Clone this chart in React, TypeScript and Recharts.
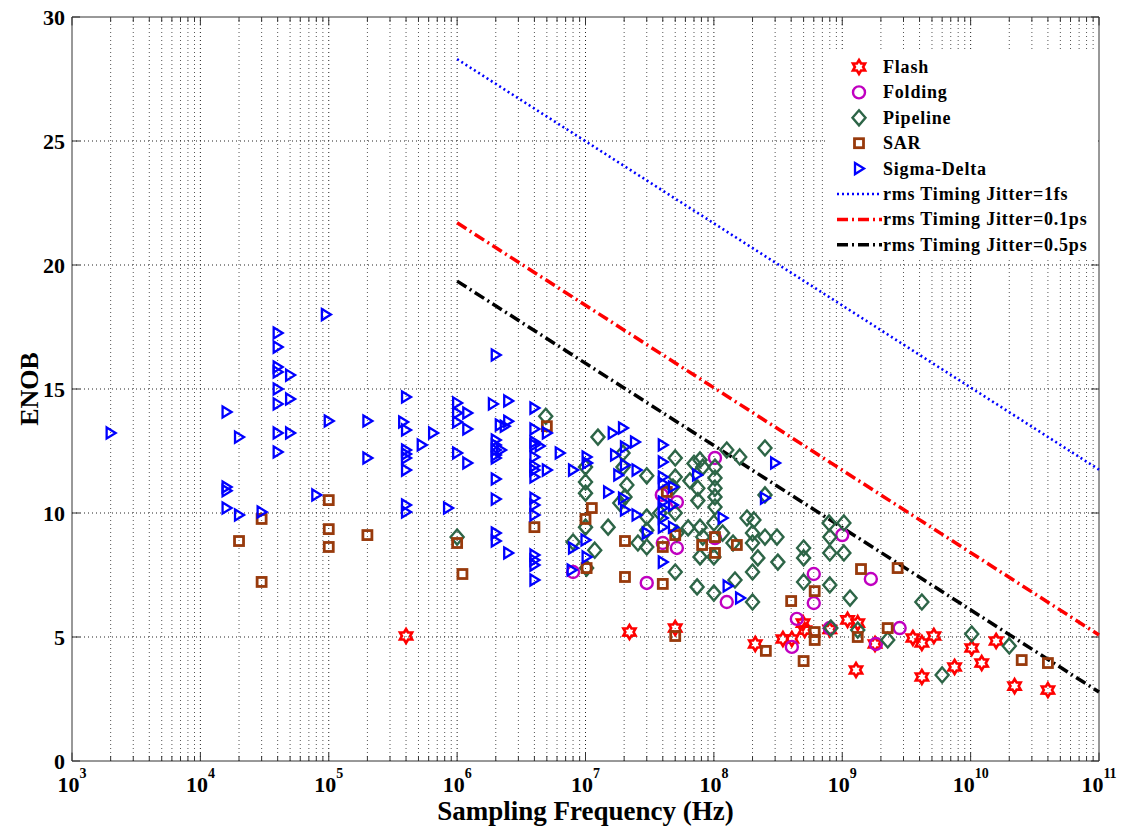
import React from "react";
import { ScatterChart, Scatter, XAxis, YAxis, ReferenceLine, Legend } from "recharts";

const FONT = '"Liberation Serif", "Times New Roman", Times, serif';

// axis ticks
const xTicks = [1e3, 1e4, 1e5, 1e6, 1e7, 1e8, 1e9, 1e10, 1e11];
const yTicks = [0, 5, 10, 15, 20, 25, 30];
const minorSteps = [2, 3, 4, 5, 6, 7, 8, 9];

// [sampling frequency (Hz), ENOB]
const flashData = [
  [4e5, 5.04], [2.2e7, 5.2], [5e7, 5.36], [2.1e8, 4.72], [3.45e8, 4.92], [4.05e8, 4.92],
  [4.95e8, 5.56], [5.1e8, 5.28], [8e8, 5.3], [1.1e9, 5.69], [1.32e9, 5.56], [1.28e9, 3.67],
  [1.8e9, 4.72], [3.55e9, 4.96], [4.17e9, 4.76], [5.17e9, 5.04], [4.17e9, 3.39], [7.5e9, 3.79],
  [1.02e10, 4.56], [1.22e10, 3.95], [1.58e10, 4.84], [2.2e10, 3.02], [4e10, 2.86],
];

const foldingData = [
  [8e6, 7.62], [3e7, 7.18], [1.26e8, 6.41], [3.93e7, 10.73], [5.15e7, 10.44], [4e7, 8.79],
  [5.15e7, 8.59], [1.02e8, 12.22], [1.02e8, 8.99], [6e8, 7.54], [6e8, 6.37], [4.43e8, 5.73],
  [4.05e8, 4.6], [8e8, 5.36], [1e9, 9.11], [1.67e9, 7.34], [1.83e9, 4.72], [2.8e9, 5.36],
];

const pipelineData = [
  [1e6, 9.03], [4.9e6, 13.9], [1.25e7, 13.06], [1.96e7, 12.42], [1.96e7, 11.85], [3e7, 11.5],
  [1e7, 11.85], [1e7, 11.25], [1e7, 10.8], [2.1e7, 11.13], [2.03e7, 10.65], [5e7, 12.22],
  [5e7, 11.45], [4.8e7, 11.05], [7e7, 12.0], [7.8e7, 12.14], [8.2e7, 11.85], [1.02e8, 11.85],
  [1.02e8, 11.41], [1.02e8, 11.0], [1.02e8, 10.65], [1.02e8, 10.24], [1.26e8, 12.54],
  [1.59e8, 12.26], [7.5e7, 11.0], [7.5e7, 10.5], [6.5e7, 11.3], [3e7, 9.84], [3e7, 9.3],
  [3e7, 8.63], [1.5e7, 9.43], [1e7, 9.43], [1.18e7, 8.5], [8e6, 8.83], [2.56e7, 8.79],
  [6.3e7, 9.4], [7.8e7, 9.43], [8.2e7, 9.03], [1e8, 9.6], [1.17e8, 9.19], [1.41e8, 8.79],
  [7.8e7, 8.23], [1e8, 8.23], [5e7, 7.62], [7.4e7, 7.02], [1e8, 6.77], [1.46e8, 7.3],
  [1.02e7, 7.78], [1.85e7, 10.4], [3.8e7, 10.0], [5e7, 10.0], [5.15e7, 9.19], [2e8, 6.41],
  [2e8, 7.62], [2.2e8, 8.19], [2e8, 8.79], [2e8, 9.19], [1.81e8, 9.8], [2.05e8, 9.72],
  [2.5e8, 9.03], [3.1e8, 9.03], [3.15e8, 8.02], [2.5e8, 12.62], [2.5e8, 10.73], [5e8, 8.59],
  [5e8, 8.19], [5e8, 7.22], [8e8, 9.03], [8e8, 8.39], [8e8, 7.1], [7.9e8, 9.6], [1.03e9, 9.6],
  [1.03e9, 8.39], [1.15e9, 6.57], [8.15e8, 5.36], [1.32e9, 5.28], [2.26e9, 4.88],
  [4.17e9, 6.41], [1.02e10, 5.12], [2e10, 4.64], [6e9, 3.47],
];

const sarData = [
  [2e4, 8.87], [3e4, 9.76], [3e4, 7.22], [1e5, 10.52], [1e5, 9.35], [1e5, 8.63], [2e5, 9.11],
  [1e6, 8.79], [1.1e6, 7.54], [4e6, 9.43], [5e6, 13.5], [1.12e7, 10.2], [1e7, 9.76],
  [1.02e7, 7.78], [2.03e7, 8.87], [2.03e7, 7.42], [4e7, 8.63], [4e7, 7.14], [4.3e7, 10.85],
  [5e7, 9.11], [5e7, 5.04], [8.1e7, 8.71], [1.02e8, 9.03], [1.02e8, 8.39], [1.51e8, 8.71],
  [2.54e8, 4.44], [4e8, 6.45], [6.1e8, 6.85], [6.1e8, 5.2], [6.1e8, 4.88], [5e8, 4.03],
  [1.4e9, 7.74], [2.7e9, 7.78], [1.32e9, 5.0], [2.26e9, 5.36], [2.5e10, 4.07], [4e10, 3.95],
];

const sigmaDeltaData = [
  [2e3, 13.23], [1.6e4, 14.07], [1.6e4, 11.05], [1.6e4, 10.9], [1.6e4, 10.2], [2e4, 13.06],
  [2e4, 9.92], [3e4, 10.04], [4e4, 17.26], [4e4, 16.69], [4e4, 15.89], [4e4, 15.69],
  [4e4, 15.0], [4e4, 14.4], [4e4, 13.23], [4e4, 12.46], [5e4, 15.56], [5e4, 14.6],
  [5e4, 13.23], [9.5e4, 18.0], [1e5, 13.71], [8e4, 10.73], [2e5, 13.71], [2e5, 12.22],
  [4e5, 14.68], [3.8e5, 13.67], [4e5, 13.35], [4e5, 12.54], [4e5, 12.38], [4e5, 12.22],
  [4e5, 11.73], [4e5, 10.32], [4e5, 10.04], [5.3e5, 12.74], [6.5e5, 13.23], [8.5e5, 10.2],
  [1e6, 14.44], [1e6, 14.03], [1.2e6, 14.03], [1e6, 13.67], [1.2e6, 13.39], [1e6, 12.42],
  [1.2e6, 12.02], [1.9e6, 14.4], [2.5e6, 14.52], [2e6, 16.37], [2.15e6, 13.55], [2.5e6, 13.7],
  [2.35e6, 13.5], [2e6, 12.94], [2e6, 12.74], [2e6, 12.54], [2e6, 12.34], [2e6, 12.22],
  [2.2e6, 12.54], [2e6, 11.37], [2e6, 10.56], [2e6, 9.19], [2e6, 8.87], [2.5e6, 8.39],
  [4e6, 14.23], [4e6, 13.39], [4e6, 12.86], [4e6, 12.74], [4.4e6, 12.7], [4e6, 12.26],
  [4e6, 11.9], [4e6, 11.73], [4e6, 11.45], [5e6, 13.23], [5e6, 11.73], [6.3e6, 12.42],
  [4e6, 10.6], [4e6, 10.32], [4e6, 9.92], [4e6, 8.31], [4e6, 8.1], [4e6, 7.9], [4e6, 7.3],
  [8e6, 11.73], [1.02e7, 12.26], [1.03e7, 12.02], [1.5e7, 10.85], [8e6, 8.59], [1e7, 8.91],
  [1.02e7, 8.23], [7.8e6, 7.7], [1.63e7, 13.23], [1.96e7, 13.43], [2.43e7, 12.86],
  [2.03e7, 12.66], [1.7e7, 12.34], [2.03e7, 11.94], [1.8e7, 11.53], [2.5e7, 11.73],
  [1.96e7, 10.6], [2.03e7, 10.12], [2.5e7, 9.92], [3e7, 9.19], [4e7, 12.74], [4e7, 12.06],
  [4e7, 11.45], [4e7, 11.2], [4.8e7, 11.05], [4e7, 10.44], [4e7, 10.2], [4.8e7, 10.32],
  [4e7, 9.8], [4e7, 9.43], [4.8e7, 9.43], [4e7, 8.02], [7.4e7, 11.53], [1.17e8, 9.8],
  [1.28e8, 7.06], [1.6e8, 6.57], [3e8, 12.02], [2.5e8, 10.6],
];

// jitter limits, end points
const jitter1fs = [[1e6, 28.3], [1e11, 11.75]];
const jitter01ps = [[1e6, 21.7], [1e11, 5.08]];
const jitter05ps = [[1e6, 19.35], [1e11, 2.78]];

const toPoints = (rows: number[][]) => rows.map(([x, y]) => ({ x, y }));

const minorX = xTicks.slice(0, -1).flatMap((d) => minorSteps.map((m) => m * d));

type MarkerProps = { cx?: number; cy?: number; color: string };

const Hexagram = ({ cx = 0, cy = 0, color }: MarkerProps) => {
  const pts: string[] = [];
  for (let i = 0; i < 12; i++) {
    const r = i % 2 === 0 ? 7 : 4.1;
    const a = (Math.PI / 6) * i - Math.PI / 2;
    pts.push(`${cx + r * Math.cos(a)},${cy + r * Math.sin(a)}`);
  }
  return <polygon points={pts.join(" ")} fill="none" stroke={color} strokeWidth={2.6} />;
};

const Ring = ({ cx = 0, cy = 0, color }: MarkerProps) => (
  <circle cx={cx} cy={cy} r={6} fill="none" stroke={color} strokeWidth={2.4} />
);

const Diamond = ({ cx = 0, cy = 0, color }: MarkerProps) => (
  <polygon
    points={`${cx},${cy - 7.5} ${cx + 6.5},${cy} ${cx},${cy + 7.5} ${cx - 6.5},${cy}`}
    fill="none"
    stroke={color}
    strokeWidth={2.4}
  />
);

const Box = ({ cx = 0, cy = 0, color }: MarkerProps) => (
  <rect x={cx - 4.5} y={cy - 4.5} width={9} height={9} fill="none" stroke={color} strokeWidth={2.8} />
);

const TriRight = ({ cx = 0, cy = 0, color }: MarkerProps) => (
  <polygon
    points={`${cx - 4},${cy - 5.5} ${cx + 5},${cy} ${cx - 4},${cy + 5.5}`}
    fill="none"
    stroke={color}
    strokeWidth={2.3}
  />
);

const markerSeries = [
  { name: "Flash", data: flashData, color: "#FF0000", Marker: Hexagram },
  { name: "Folding", data: foldingData, color: "#C000C0", Marker: Ring },
  { name: "Pipeline", data: pipelineData, color: "#2D6547", Marker: Diamond },
  { name: "SAR", data: sarData, color: "#983A0C", Marker: Box },
  { name: "Sigma-Delta", data: sigmaDeltaData, color: "#0000FF", Marker: TriRight },
];

const jitterSeries = [
  { name: "rms Timing Jitter=1fs", data: jitter1fs, color: "#0000FF", dash: "2 3", width: 2.6 },
  { name: "rms Timing Jitter=0.1ps", data: jitter01ps, color: "#FF0000", dash: "11 4 2 4", width: 3.5 },
  { name: "rms Timing Jitter=0.5ps", data: jitter05ps, color: "#000000", dash: "11 4 2 4", width: 3.5 },
];

const textStyle = { fontFamily: FONT, fontWeight: "bold" as const, fill: "#000" };

const XTick = ({ x, y, payload }: any) => {
  const exp = Math.round(Math.log10(payload.value));
  return (
    <text x={x} y={y} textAnchor="middle" {...textStyle}>
      <tspan fontSize={22} dy={23}>10</tspan>
      <tspan fontSize={14} dy={-14}>{exp}</tspan>
    </text>
  );
};

const YTick = ({ x, y, payload }: any) => (
  <text x={x} y={y} textAnchor="end" dominantBaseline="central" fontSize={22} {...textStyle}>
    {payload.value}
  </text>
);

const YTitle = ({ viewBox }: any) => {
  const cx = viewBox.x + 2;
  const cy = viewBox.y + viewBox.height / 2;
  return (
    <text
      x={cx}
      y={cy}
      transform={`rotate(-90 ${cx} ${cy})`}
      textAnchor="middle"
      dominantBaseline="central"
      fontSize={26}
      {...textStyle}
    >
      ENOB
    </text>
  );
};

const LegendBox = () => (
  <svg width={272} height={210} style={{ display: "block" }}>
    {markerSeries.map((s, i) => {
      const cy = 17 + i * 25.4;
      return (
        <g key={s.name}>
          <s.Marker cx={33} cy={cy} color={s.color} />
          <text x={57} y={cy} dominantBaseline="central" fontSize={18} letterSpacing={0.8} {...textStyle}>
            {s.name}
          </text>
        </g>
      );
    })}
    {jitterSeries.map((s, i) => {
      const cy = 17 + (i + 5) * 25.4;
      return (
        <g key={s.name}>
          <line x1={11} x2={56} y1={cy} y2={cy} stroke={s.color} strokeWidth={s.width} strokeDasharray={s.dash} />
          <text x={57} y={cy} dominantBaseline="central" fontSize={18} letterSpacing={0.8} {...textStyle}>
            {s.name}
          </text>
        </g>
      );
    })}
  </svg>
);

const AXIS = "#333";

export default function App() {
  return (
    <div style={{ position: "absolute", left: 0, top: 0, width: 1123, height: 830, background: "#fff" }}>
      <ScatterChart width={1123} height={830} margin={{ top: 17, right: 24, bottom: 9, left: 27 }}>
        <XAxis
          type="number"
          dataKey="x"
          scale="log"
          domain={[1e3, 1e11]}
          ticks={xTicks}
          interval={0}
          tick={<XTick />}
          tickLine={false}
          tickSize={6}
          tickMargin={2}
          axisLine={{ stroke: AXIS }}
          height={60}
          label={{
            value: "Sampling Frequency (Hz)",
            position: "insideBottom",
            offset: 1,
            fontSize: 27,
            fontFamily: FONT,
            fontWeight: "bold",
            fill: "#000",
          }}
        />
        <YAxis
          type="number"
          dataKey="y"
          domain={[0, 30]}
          ticks={yTicks}
          interval={0}
          tick={<YTick />}
          tickLine={false}
          tickSize={6}
          tickMargin={1}
          axisLine={{ stroke: AXIS }}
          width={45}
          label={<YTitle />}
        />

        {minorX.map((v) => (
          <ReferenceLine key={`mg${v}`} x={v} stroke="#555" strokeDasharray="1 3" />
        ))}
        {xTicks.slice(1, -1).map((v) => (
          <ReferenceLine key={`g${v}`} x={v} stroke="#222" strokeDasharray="1 3" />
        ))}
        {yTicks.slice(1, -1).map((v) => (
          <ReferenceLine key={`gy${v}`} y={v} stroke="#222" strokeDasharray="1 3" />
        ))}

        {/* inward ticks on all four sides */}
        {xTicks.map((v) => (
          <ReferenceLine key={`tb${v}`} segment={[{ x: v, y: 0 }, { x: v, y: 0.34 }]} stroke={AXIS} />
        ))}
        {xTicks.map((v) => (
          <ReferenceLine key={`tt${v}`} segment={[{ x: v, y: 30 }, { x: v, y: 29.66 }]} stroke={AXIS} />
        ))}
        {minorX.map((v) => (
          <ReferenceLine key={`mb${v}`} segment={[{ x: v, y: 0 }, { x: v, y: 0.2 }]} stroke={AXIS} />
        ))}
        {minorX.map((v) => (
          <ReferenceLine key={`mt${v}`} segment={[{ x: v, y: 30 }, { x: v, y: 29.8 }]} stroke={AXIS} />
        ))}
        {yTicks.map((v) => (
          <ReferenceLine key={`tl${v}`} segment={[{ x: 1e3, y: v }, { x: 1.155e3, y: v }]} stroke={AXIS} />
        ))}
        {yTicks.map((v) => (
          <ReferenceLine key={`tr${v}`} segment={[{ x: 1e11, y: v }, { x: 1e11 / 1.155, y: v }]} stroke={AXIS} />
        ))}
        <ReferenceLine y={30} stroke={AXIS} />
        <ReferenceLine x={1e11} stroke={AXIS} />

        {jitterSeries.map((s) => (
          <Scatter
            key={s.name}
            name={s.name}
            data={toPoints(s.data)}
            line={{ stroke: s.color, strokeWidth: s.width, strokeDasharray: s.dash }}
            shape={() => <g />}
            isAnimationActive={false}
          />
        ))}
        {markerSeries.map((s) => (
          <Scatter
            key={s.name}
            name={s.name}
            data={toPoints(s.data)}
            shape={(p: any) => <s.Marker cx={p.cx} cy={p.cy} color={s.color} />}
            isAnimationActive={false}
          />
        ))}

        <Legend
          layout="vertical"
          align="center"
          verticalAlign="middle"
          wrapperStyle={{ left: 826, top: 50, width: 272, height: 210, background: "#fff", margin: 0 }}
          content={() => <LegendBox />}
        />
      </ScatterChart>
    </div>
  );
}
